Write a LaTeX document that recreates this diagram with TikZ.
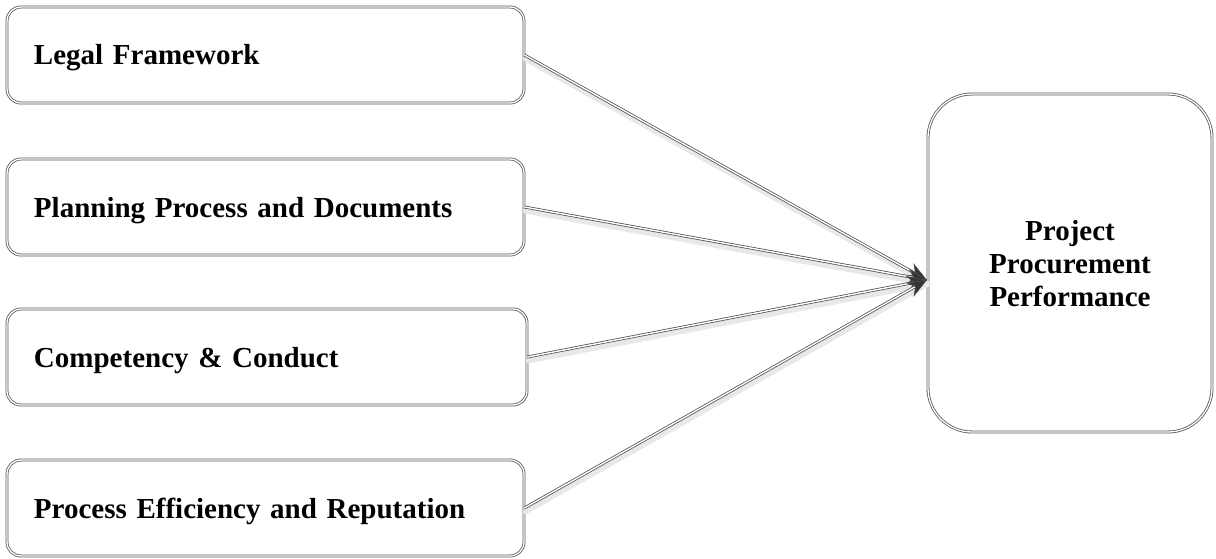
\documentclass[tikz,border=0pt]{standalone}
\usepackage{fontspec}
\setmainfont{Liberation Serif}
\usetikzlibrary{arrows.meta}

\begin{document}
\begin{tikzpicture}[x=1pt, y=-1pt,
    box/.style={draw=black!65, double=white, double distance=1.3pt, line width=0.8pt,
        font=\fontsize{29}{33}\selectfont\bfseries},
    factor/.style={box, rounded corners=14pt, minimum height=96pt,
        text width=463pt, inner xsep=27pt, align=left,
        text height=20pt, text depth=0pt},
    outcome/.style={box, rounded corners=44pt, minimum width=284pt,
        minimum height=338pt, align=center, text depth=-7pt},
    link/.style={draw=black!70, double=white, double distance=1.4pt, line width=0.75pt,
        -{Stealth[length=20pt, width=16pt, fill=black!80]}},
    linkshadow/.style={draw=black!9, line width=5pt, line cap=round,
        transform canvas={shift={(1pt,-4pt)}}}]

    \useasboundingbox (0,0) rectangle (1216,559);

    % Einflussfaktoren
    \node[factor] (legal) at (265.5,55) {Legal Framework};
    \node[factor] (planning) at (265.5,207) {Planning Process and Documents};
    \node[factor, text width=466pt] (conduct) at (267,357) {Competency \& Conduct};
    \node[factor] (efficiency) at (265.5,508) {Process Efficiency and Reputation};

    % Zielgroesse
    \node[outcome] (performance) at (1070,263) {Project\\Procurement\\Performance};
    \coordinate (tip) at (927,280);

    % Schatten und Pfeile
    \foreach \src in {legal,planning,conduct,efficiency}
        \draw[linkshadow] (\src.east) -- (tip);
    \foreach \src in {legal,planning,conduct,efficiency}
        \draw[link] (\src.east) -- (tip);

\end{tikzpicture}
\end{document}
